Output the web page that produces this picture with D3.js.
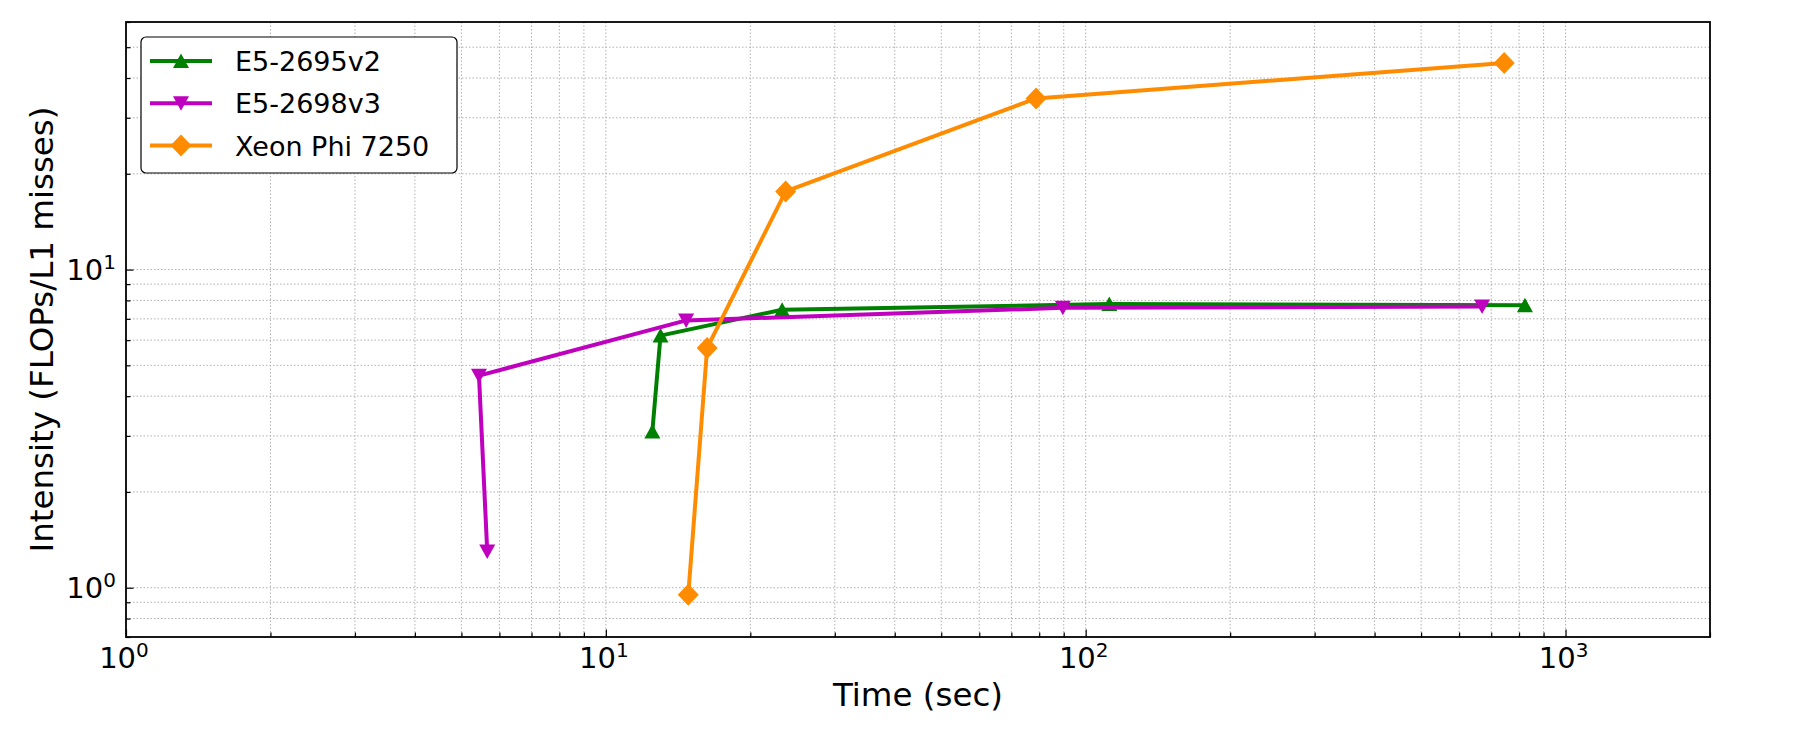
<!DOCTYPE html>
<html>
<head>
<meta charset="utf-8">
<script src="https://cdn.jsdelivr.net/npm/d3@7/dist/d3.min.js"></script>
<style>
  body { margin: 0; background: #fff; }
  svg { display: block; font-family: "DejaVu Sans", sans-serif; }
</style>
</head>
<body>
<svg id="chart" width="1800" height="750"></svg>
<script>
// series data (time in sec, intensity in FLOPs/L1 misses)
const seriesNames = ["E5-2695v2", "E5-2698v3", "Xeon Phi 7250"];
const e5v2Time = [823, 112, 23.3, 13.0, 12.5];
const e5v2Intensity = [7.72, 7.79, 7.48, 6.2, 3.1];
const e5v3Time = [670, 89.6, 14.7, 5.44, 5.66];
const e5v3Intensity = [7.65, 7.58, 6.92, 4.64, 1.30];
const phiTime = [745, 78.8, 23.7, 16.26, 14.85];
const phiIntensity = [44.6, 34.5, 17.6, 5.67, 0.95];

const xMajorTicks = [1, 10, 100, 1000];
const yMajorTicks = [1, 10];
const xTickExp = ["0", "1", "2", "3"];
const yTickExp = ["0", "1"];

const colors = ["#008000", "#bf00bf", "#ff8c00"];
const markers = ["up", "down", "diamond"];

const W = 1800, H = 750;
const pLeft = 126, pRight = 1710, pTop = 22, pBottom = 637;

const svg = d3.select("#chart");
svg.append("rect").attr("width", W).attr("height", H).attr("fill", "#fff");

const x = d3.scaleLog().domain([1, 2000]).range([pLeft, pRight]);
const y = d3.scaleLog().domain([0.7, 60]).range([pBottom, pTop]);

// all major + minor tick values inside the domain
function logTicks(lo, hi) {
    const out = [];
    for (let e = -1; e <= 4; e++) {
        for (let m = 1; m <= 9; m++) {
            const v = m * Math.pow(10, e);
            if (v >= lo * 0.9999 && v <= hi * 1.0001) out.push(v);
        }
    }
    return out;
}
const xTicks = logTicks(1, 2000);
const yTicks = logTicks(0.7, 60);
const isMajor = v => Math.abs(Math.log10(v) - Math.round(Math.log10(v))) < 1e-9;

// grid
const grid = svg.append("g").attr("stroke", "#b0b0b0").attr("stroke-width", 1)
    .attr("stroke-dasharray", "1.5,2");
grid.selectAll("line.gx").data(xTicks.filter(v => x(v) > pLeft + 1 && x(v) < pRight - 1))
    .enter().append("line")
    .attr("x1", d => x(d)).attr("x2", d => x(d))
    .attr("y1", pTop).attr("y2", pBottom);
grid.selectAll("line.gy").data(yTicks.filter(v => y(v) > pTop + 1 && y(v) < pBottom - 1))
    .enter().append("line")
    .attr("y1", d => y(d)).attr("y2", d => y(d))
    .attr("x1", pLeft).attr("x2", pRight);

// axes with inward ticks
const xAxis = svg.append("g").attr("transform", `translate(0,${pBottom})`)
    .call(d3.axisBottom(x).tickValues(xTicks).tickFormat("").tickSizeOuter(0).tickSizeInner(-4.5));
xAxis.select(".domain").remove();
xAxis.selectAll(".tick line").attr("stroke", "#000").attr("stroke-width", 1.2)
    .attr("y2", d => isMajor(d) ? -7.5 : -4.5);

const yAxis = svg.append("g").attr("transform", `translate(${pLeft},0)`)
    .call(d3.axisLeft(y).tickValues(yTicks).tickFormat("").tickSizeOuter(0).tickSizeInner(-4.5));
yAxis.select(".domain").remove();
yAxis.selectAll(".tick line").attr("stroke", "#000").attr("stroke-width", 1.2)
    .attr("x2", d => isMajor(d) ? 7.5 : 4.5);

// tick labels 10^n
xMajorTicks.forEach((v, i) => {
    const t = svg.append("text").attr("x", x(v) - 2).attr("y", 668)
        .attr("text-anchor", "middle").attr("font-size", 29).attr("fill", "#000");
    t.append("tspan").text("10");
    t.append("tspan").attr("dy", -11).attr("font-size", 20).text(xTickExp[i]);
});
yMajorTicks.forEach((v, i) => {
    const t = svg.append("text").attr("x", 116).attr("y", y(v) + 10)
        .attr("text-anchor", "end").attr("font-size", 29).attr("fill", "#000");
    t.append("tspan").text("10");
    t.append("tspan").attr("dy", -11).attr("font-size", 20).text(yTickExp[i]);
});

// axis labels
svg.append("text").attr("x", (pLeft + pRight) / 2).attr("y", 706)
    .attr("text-anchor", "middle").attr("font-size", 32.5).text("Time (sec)");
svg.append("text").attr("transform", `translate(52.5,${(pTop + pBottom) / 2}) rotate(-90)`)
    .attr("text-anchor", "middle").attr("font-size", 32.5).text("Intensity (FLOPs/L1 misses)");

// markers
function markerPath(kind) {
    if (kind === "up") return "M0,-7.5L8,7L-8,7Z";
    if (kind === "down") return "M0,7.5L8,-7L-8,-7Z";
    return "M0,-11L10.5,0L0,11L-10.5,0Z";
}

const series = [
    { name: seriesNames[0], t: e5v2Time, v: e5v2Intensity },
    { name: seriesNames[1], t: e5v3Time, v: e5v3Intensity },
    { name: seriesNames[2], t: phiTime, v: phiIntensity }
];

const line = d3.line().x(d => x(d[0])).y(d => y(d[1]));
const plot = svg.append("g");
series.forEach((s, i) => {
    const pts = s.t.map((t, j) => [t, s.v[j]]);
    plot.append("path").datum(pts).attr("d", line)
        .attr("fill", "none").attr("stroke", colors[i]).attr("stroke-width", 4)
        .attr("stroke-linejoin", "round");
    plot.selectAll(null).data(pts).enter().append("path")
        .attr("d", markerPath(markers[i]))
        .attr("transform", d => `translate(${x(d[0])},${y(d[1])})`)
        .attr("fill", colors[i]);
});

// frame
svg.append("rect").attr("x", pLeft).attr("y", pTop)
    .attr("width", pRight - pLeft).attr("height", pBottom - pTop)
    .attr("fill", "none").attr("stroke", "#000").attr("stroke-width", 1.8);

// legend
const lg = svg.append("g");
lg.append("rect").attr("x", 141).attr("y", 37).attr("width", 316).attr("height", 136)
    .attr("rx", 5).attr("fill", "#fff").attr("stroke", "#000").attr("stroke-width", 1.2);
series.forEach((s, i) => {
    const cy = 61 + i * 42.3;
    lg.append("line").attr("x1", 150).attr("x2", 212).attr("y1", cy).attr("y2", cy)
        .attr("stroke", colors[i]).attr("stroke-width", 4);
    lg.append("path").attr("d", markerPath(markers[i]))
        .attr("transform", `translate(181,${cy})`).attr("fill", colors[i]);
    lg.append("text").attr("x", 235).attr("y", cy + 10).attr("font-size", 27)
        .text(s.name);
});
</script>
</body>
</html>
